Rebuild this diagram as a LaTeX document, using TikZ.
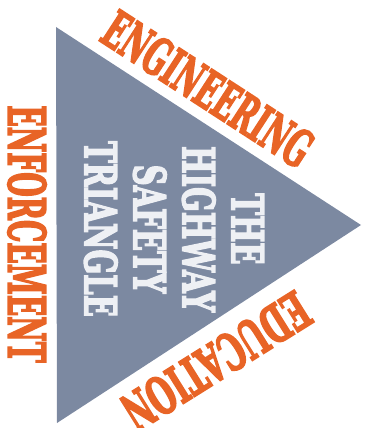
\documentclass[tikz,border=0pt]{standalone}
\usepackage{fontspec}
\setmainfont{DejaVu Serif}[BoldFeatures={FakeBold=4}]
\definecolor{triGray}{RGB}{124,137,161}
\definecolor{safeOrange}{RGB}{232,100,38}
\definecolor{paleWhite}{RGB}{238,240,244}
\newcommand{\squeeze}[2]{\scalebox{#1}[1]{#2}}
\tikzset{
  side label/.style={
    text=safeOrange,
    inner sep=0pt,
    font=\bfseries\fontsize{51}{51}\selectfont
  },
  inner label/.style={
    text=paleWhite,
    inner sep=0pt,
    align=center,
    font=\bfseries\fontsize{44}{49}\selectfont
  }
}

\begin{document}
\begin{tikzpicture}[x=1pt, y=-1pt]
    % 1. page frame
    \useasboundingbox (0,0) rectangle (364,428);

    % 2. the triangle
    \coordinate (TopCorner) at (56,27);
    \coordinate (BottomCorner) at (57,423);
    \coordinate (Tip) at (361,225);
    \fill[triGray] (TopCorner) -- (Tip) -- (BottomCorner) -- cycle;

    % 3. the three sides
    \node[side label, rotate=-33] (engineering) at (208,89) {\squeeze{0.55}{ENGINEERING}};
    \node[side label, rotate=-90] (enforcement) at (27,234) {\squeeze{0.55}{ENFORCEMENT}};
    \node[side label, rotate=212] (education) at (216,361) {\squeeze{0.59}{EDUCATION}};

    % 4. title in the middle
    \node[inner label, rotate=-90] (title) at (174,229)
      {\squeeze{0.66}{THE}\\ \squeeze{0.66}{HIGHWAY}\\ \squeeze{0.66}{SAFETY}\\ \squeeze{0.66}{TRIANGLE}};

\end{tikzpicture}
\end{document}
